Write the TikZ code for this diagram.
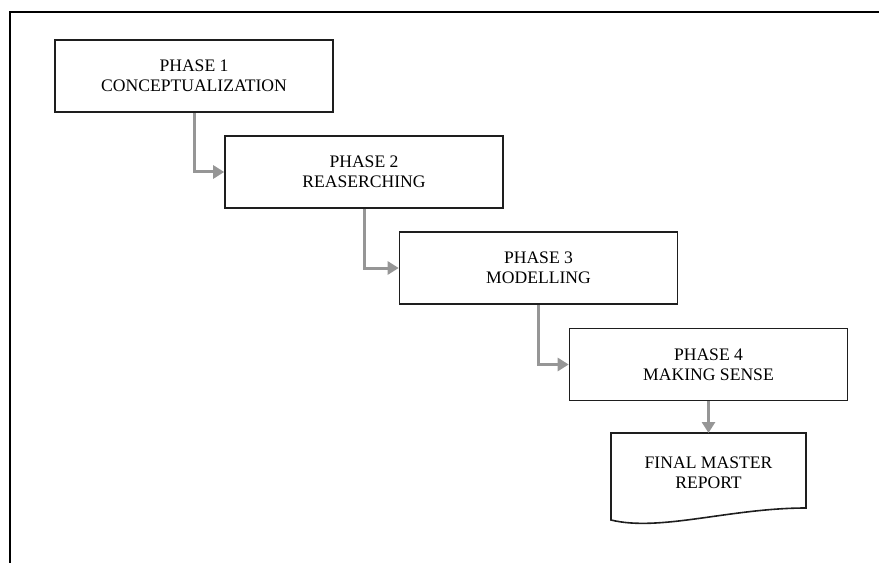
\documentclass[tikz,border=0pt]{standalone}
\usepackage{fontspec}
\setmainfont{Liberation Serif}
\usetikzlibrary{arrows.meta}
\definecolor{flowgray}{RGB}{150,150,150}
\definecolor{boxline}{RGB}{30,30,30}
\begin{document}
\begin{tikzpicture}[x=1bp,y=-1bp,
  phasebox/.style={draw=boxline,line width=1.6bp,minimum width=278bp,minimum height=72bp,
    inner sep=0pt,align=center,font=\fontsize{17.6bp}{20bp}\selectfont},
  doctext/.style={inner sep=0pt,align=center,font=\fontsize{17.6bp}{20bp}\selectfont},
  flow/.style={draw=flowgray,line width=3bp,-{Triangle[length=11bp,width=13bp]}}]
\useasboundingbox (0,0) rectangle (879,563);
% outer frame (top and left edges)
\draw[line width=2.2bp] (10,563) -- (10,12) -- (879,12);
% phase boxes
\node[phasebox] (p1) at (194,76) {PHASE 1\\CONCEPTUALIZATION};
\node[phasebox] (p2) at (364,172) {PHASE 2\\REASERCHING};
\node[phasebox] (p3) at (538.5,268) {PHASE 3\\MODELLING};
\node[phasebox] (p4) at (708.5,364.5) {PHASE 4\\MAKING SENSE};
% final report (document shape)
\draw[draw=boxline,line width=1.6bp] (611,433) -- (806,433) -- (806,508)
  .. controls (730,508) and (660,532) .. (611,520) -- cycle;
\coordinate (doctop) at (708.5,433);
\node[doctext] (doc) at (708.5,473) {FINAL MASTER\\REPORT};
% connectors
\draw[flow] (p1.south) |- (p2.west);
\draw[flow] (p2.south) |- (p3.west);
\draw[flow] (p3.south) |- (p4.west);
\draw[flow] (p4.south) -- (doctop);
\end{tikzpicture}
\end{document}
